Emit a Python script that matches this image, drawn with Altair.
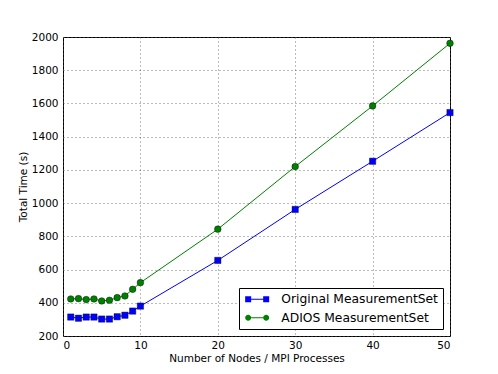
import altair as alt
import pandas as pd

nodes = [1, 2, 3, 4, 5, 6, 7, 8, 9, 10, 20, 30, 40, 50]
original = [314, 307, 314, 314, 302, 302, 316, 325, 350, 380, 655, 962, 1252, 1545]
adios = [423, 425, 419, 423, 411, 415, 431, 441, 481, 521, 843, 1220, 1585, 1962]
series = ["Original MeasurementSet", "ADIOS MeasurementSet"]
colors = ["#0000ff", "#008000"]
x_ticks = [0, 10, 20, 30, 40, 50]
y_ticks = [200, 400, 600, 800, 1000, 1200, 1400, 1600, 1800, 2000]

df = pd.DataFrame({
    "n": nodes * 2,
    "t": original + adios,
    "s": [series[0]] * len(nodes) + [series[1]] * len(nodes),
})

FONT = "DejaVu Sans"

# legend handles: line with a marker at each end (unit = 6 px)
sq_path = ("M-0.83,-0.5H0.17V0.5H-0.83Z M2.17,-0.5H3.17V0.5H2.17Z "
           "M0.17,-0.085H2.17V0.085H0.17Z")
ci_path = ("M-0.83,0A0.5,0.5 0 1,0 0.17,0A0.5,0.5 0 1,0 -0.83,0Z "
           "M2.17,0A0.5,0.5 0 1,0 3.17,0A0.5,0.5 0 1,0 2.17,0Z "
           "M0.17,-0.085H2.17V0.085H0.17Z")

xenc = alt.X("n:Q", scale=alt.Scale(domain=[0, 50], nice=False, zero=False),
             axis=alt.Axis(values=x_ticks, title="Number of Nodes / MPI Processes",
                           labelPadding=4, titlePadding=3, format="d"))
yenc = alt.Y("t:Q", scale=alt.Scale(domain=[200, 2000], nice=False, zero=False),
             axis=alt.Axis(values=y_ticks, title="Total Time (s)", format="d",
                           labelPadding=5, titlePadding=3))

base = alt.Chart(df)

legend_layer = base.mark_point(filled=True, fillOpacity=0, strokeOpacity=0).encode(
    x=xenc, y=yenc,
    color=alt.Color("s:N", scale=alt.Scale(domain=series, range=colors),
                    legend=alt.Legend(title=None, symbolOpacity=1)),
    shape=alt.Shape("s:N", scale=alt.Scale(domain=series, range=[sq_path, ci_path]),
                    legend=alt.Legend(title=None)),
)

lines = base.mark_line(strokeWidth=1).encode(
    x=xenc, y=yenc,
    stroke=alt.Stroke("s:N", scale=alt.Scale(domain=series, range=colors), legend=None),
    detail="s:N",
)

pts_sq = base.transform_filter(alt.datum.s == series[0]).mark_point(
    shape="square", filled=True, size=40, opacity=1, stroke="black", strokeWidth=0.4
).encode(x=xenc, y=yenc,
         fill=alt.Fill("s:N", scale=alt.Scale(domain=series, range=colors), legend=None))

pts_ci = base.transform_filter(alt.datum.s == series[1]).mark_point(
    shape="circle", filled=True, size=44, opacity=1, stroke="black", strokeWidth=0.4
).encode(x=xenc, y=yenc,
         fill=alt.Fill("s:N", scale=alt.Scale(domain=series, range=colors), legend=None))

chart = alt.layer(legend_layer, lines, pts_sq, pts_ci).properties(
    width=387, height=299,
    autosize=alt.AutoSizeParams(type="none"),
    padding={"left": 55, "top": 29, "right": 30, "bottom": 30},
).configure_view(
    stroke="black", strokeWidth=1
).configure_axis(
    labelFont=FONT, titleFont=FONT, labelFontSize=10.5, titleFontSize=10.5,
    titleFontWeight="normal", labelColor="black", titleColor="black",
    ticks=False, domain=False, grid=True, gridColor="#555", gridDash=[1, 3],
    gridWidth=0.8,
).configure_legend(
    orient="bottom-right", offset=7, padding=5, strokeColor="black", fillColor="white",
    cornerRadius=0, labelFont=FONT, labelFontSize=12.3, labelColor="black",
    symbolSize=144, symbolStrokeWidth=0, rowPadding=5.5, labelOffset=25,
    labelLimit=400,
)

chart.save("out.html", embed_options={"renderer": "svg", "actions": False})
